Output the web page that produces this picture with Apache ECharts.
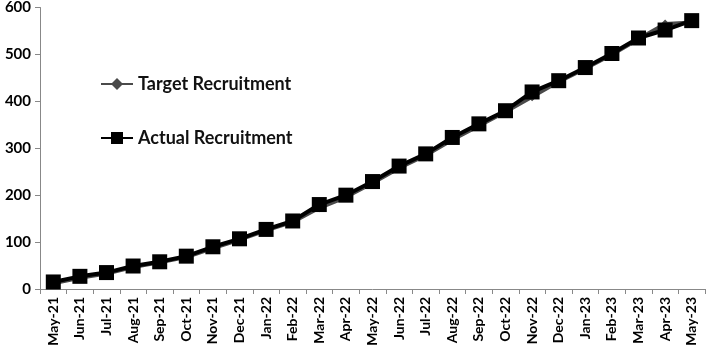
<!DOCTYPE html>
<html>
<head>
<meta charset="utf-8">
<script src="https://cdn.jsdelivr.net/npm/echarts@6/dist/echarts.min.js"></script>
<style>
html,body{margin:0;padding:0;background:#fff;}
#main{width:708px;height:351px;}
</style>
</head>
<body>
<div id="main"></div>
<script>
// months on the x axis
var months = ['May-21','Jun-21','Jul-21','Aug-21','Sep-21','Oct-21','Nov-21','Dec-21',
	'Jan-22','Feb-22','Mar-22','Apr-22','May-22','Jun-22','Jul-22','Aug-22','Sep-22',
	'Oct-22','Nov-22','Dec-22','Jan-23','Feb-23','Mar-23','Apr-23','May-23'];
// cumulative target
var target = [12,24,33,47,57,68,87,105,125,143,173,196,226,258,285,318,348,378,410,442,470,500,533,565,568];
// cumulative actual
var actual = [15,27,35,49,58,70,90,107,127,145,180,200,229,262,288,323,352,380,420,444,472,502,535,552,572];
var yTicks = [0,100,200,300,400,500,600];

var chart = echarts.init(document.getElementById('main'));
var option = {
	backgroundColor: '#fff',
	animation: false,
	grid: {
		left: 40,
		right: 3,
		top: 7,
		bottom: 62
	},
	legend: {
		orient: 'vertical',
		left: 95,
		top: 70,
		itemGap: 36,
		itemWidth: 32,
		itemHeight: 15,
		textStyle: {
			color: '#111',
			fontFamily: 'Lato',
			fontWeight: 'bold',
			fontSize: 18
		},
		data: ['Target Recruitment', 'Actual Recruitment']
	},
	xAxis: [{
		type: 'category',
		data: months,
		boundaryGap: true,
		axisLine: { lineStyle: { color: '#888', width: 1 } },
		axisTick: { show: true, length: 5, alignWithLabel: false, lineStyle: { color: '#888' } },
		axisLabel: {
			interval: 0,
			rotate: 90,
			color: '#000',
			fontFamily: 'Lato',
			fontWeight: 'bold',
			fontSize: 14,
			margin: 8
		},
		splitLine: { show: false }
	}],
	yAxis: [{
		type: 'value',
		min: yTicks[0],
		max: yTicks[yTicks.length - 1],
		interval: 100,
		axisLine: { show: true, lineStyle: { color: '#888', width: 1 } },
		axisTick: { show: true, length: 5, lineStyle: { color: '#888' } },
		axisLabel: {
			color: '#000',
			fontFamily: 'Lato',
			fontWeight: 'bold',
			fontSize: 15,
			margin: 9
		},
		splitLine: { show: false }
	}],
	series: [{
		name: 'Target Recruitment',
		type: 'line',
		data: target,
		symbol: 'diamond',
		symbolSize: 9,
		itemStyle: { color: '#4a4a4a' },
		lineStyle: { color: '#4a4a4a', width: 4 },
		z: 2
	}, {
		name: 'Actual Recruitment',
		type: 'line',
		data: actual,
		symbol: 'rect',
		symbolSize: 15,
		itemStyle: { color: '#000' },
		lineStyle: { color: '#000', width: 4 },
		z: 3
	}]
};
chart.setOption(option, true);
</script>
</body>
</html>
